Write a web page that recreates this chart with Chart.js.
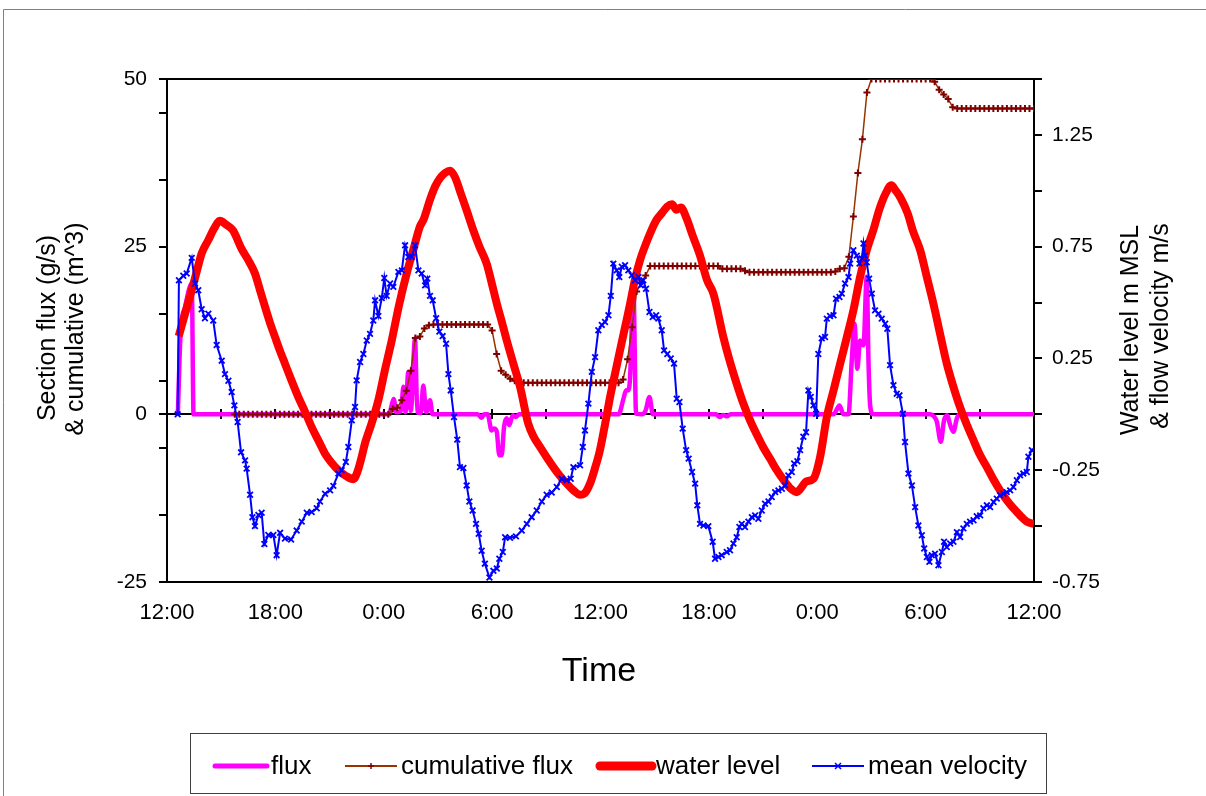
<!DOCTYPE html>
<html>
<head>
<meta charset="utf-8">
<script src="https://cdn.jsdelivr.net/npm/chart.js@4.4.1/dist/chart.umd.min.js"></script>
<style>
  html, body { margin: 0; padding: 0; background: #fff; }
</style>
</head>
<body>
<canvas id="flux_chart" width="1206" height="796"></canvas>
<script>
/*--------------------------------------------------------------------------------
----- SECTION FLUX / WATER LEVEL / VELOCITY over 48 hours (x = hours from 12:00)
--------------------------------------------------------------------------------*/

const timeLabels = ['12:00', '18:00', '0:00', '6:00', '12:00', '18:00', '0:00', '6:00', '12:00'];
const leftTicks = [-25, -15, -5, 0, 5, 15, 25, 35, 45, 50];
const rightTicks = [-0.75, -0.5, -0.25, 0, 0.25, 0.5, 0.75, 1, 1.25, 1.5];
const rightLabelled = [-0.75, -0.25, 0.25, 0.75, 1.25];

// flux (g/s), [hour, value]
const flux = [
  [0.6, 0], [0.75, 12], [1.0, 16], [1.37, 19.5], [1.47, 0],
  [12.3, 0], [12.45, 1.5], [12.55, 2.3], [12.7, 0.3], [12.95, 0.5], [13.09, 4.1], [13.2, 0.3],
  [13.36, 6.3], [13.5, 0.5], [13.73, 11.3], [13.86, 0.3], [14.05, 0.2], [14.19, 4.3], [14.35, 0.3],
  [14.56, 2.1], [14.7, 0],
  [17.2, 0], [17.42, -0.5], [17.55, 0], [17.75, 0], [17.97, -2.4], [18.1, -2.1], [18.25, -2.5],
  [18.4, -6.1], [18.53, -6.1], [18.66, -1.9], [18.8, -0.6], [18.95, -1.6], [19.14, -0.15], [19.3, -0.4], [19.5, 0],
  [25.0, 0], [25.27, 2.3], [25.42, 3.6], [25.54, 3.6], [25.64, 5.6], [25.82, 19], [25.97, 0.1],
  [26.3, 0], [26.5, 0.6], [26.71, 2.6], [26.9, 0],
  [30.4, 0], [30.6, -0.4], [30.8, -0.1], [31.0, -0.3], [31.2, 0],
  [36.9, 0], [37.23, 1.3], [37.45, 0], [37.73, 0], [37.91, 8], [38.06, 13.5], [38.22, 6.8],
  [38.37, 11], [38.56, 10.3], [38.74, 20.5], [38.84, 7.6], [38.93, 1.3], [39.1, 0],
  [42.25, 0], [42.45, -0.3], [42.62, -1.1], [42.84, -4.1], [43.02, -0.9], [43.2, -0.15],
  [43.36, -1.6], [43.54, -2.6], [43.73, -0.6], [43.9, 0], [48, 0]
];

// cumulative flux (m^3), every 15 minutes from hour 3.75
const cumStart = 3.75;
const cumStep = 0.25;
const cumulativeFlux = [
  0, 0, 0, 0, 0, 0, 0, 0, 0, 0, 0, 0, 0, 0, 0, 0, 0, 0, 0, 0, 0, 0, 0, 0, 0, 0, 0, 0, 0, 0, 0, 0, 0, 0, 0,
  0.8, 1.0, 2.1, 3.5, 6.5, 11.4, 11.6, 12.8, 13.3,
  13.4, 13.4, 13.4, 13.4, 13.4, 13.4, 13.4, 13.4, 13.4, 13.4, 13.4, 13.4, 13.4,
  12.5, 9.0, 6.5, 5.9, 5.3, 5.0, 4.8,
  4.7, 4.7, 4.7, 4.7, 4.7, 4.7, 4.7, 4.7, 4.7, 4.7, 4.7, 4.7, 4.7, 4.7, 4.7, 4.7, 4.7, 4.7, 4.7, 4.7, 4.7, 4.7,
  5.2, 8.2, 13.0, 18.3, 19.6, 20.7,
  22.1, 22.1, 22.1, 22.1, 22.1, 22.1, 22.1, 22.1, 22.1, 22.1, 22.1, 22.1, 22.1, 22.1, 22.1, 22.1,
  21.7, 21.7, 21.7, 21.7, 21.7,
  21.4,
  21.2, 21.2, 21.2, 21.2, 21.2, 21.2, 21.2, 21.2, 21.2, 21.2, 21.2, 21.2, 21.2, 21.2, 21.2, 21.2, 21.2, 21.2, 21.2,
  21.3, 21.7, 21.8, 23.5, 29.5, 36.0, 41.0, 48.0,
  50, 50, 50, 50, 50, 50, 50, 50, 50, 50, 50, 50, 50, 50,
  49.6, 48.4, 47.7, 47.0, 45.8,
  45.6, 45.6, 45.6, 45.6, 45.6, 45.6, 45.6, 45.6, 45.6, 45.6, 45.6, 45.6, 45.6, 45.6, 45.6, 45.6, 45.6, 45.6
];

// water level (m MSL), [hour, value]
const waterLevel = [
  [0.65, 0.35], [1.0, 0.45], [1.37, 0.555], [1.65, 0.64], [1.92, 0.72], [2.29, 0.78], [2.6, 0.83],
  [2.93, 0.866], [3.25, 0.85], [3.65, 0.823], [4.13, 0.74], [4.5, 0.69], [4.87, 0.63], [5.15, 0.555],
  [5.43, 0.48], [5.7, 0.41], [5.98, 0.346], [6.25, 0.285], [6.53, 0.227], [6.9, 0.15], [7.27, 0.077],
  [7.65, 0.01], [8.01, -0.057], [8.4, -0.12], [8.75, -0.176], [9.1, -0.215], [9.49, -0.25], [9.9, -0.275],
  [10.32, -0.29], [10.55, -0.255], [10.78, -0.19], [10.96, -0.13], [11.33, -0.04], [11.7, 0.063],
  [12.07, 0.2], [12.44, 0.33], [12.85, 0.49], [13.27, 0.63], [13.65, 0.74], [14.0, 0.84], [14.2, 0.87],
  [14.56, 0.96], [14.85, 1.02], [15.1, 1.055], [15.4, 1.08], [15.67, 1.09], [15.95, 1.06], [16.3, 0.98],
  [16.6, 0.91], [16.96, 0.823], [17.3, 0.75], [17.7, 0.674], [18.0, 0.58], [18.26, 0.495], [18.55, 0.41],
  [18.81, 0.33], [19.2, 0.22], [19.55, 0.122], [20.0, -0.042], [20.3, -0.1], [20.65, -0.146], [21.0, -0.19],
  [21.39, -0.236], [21.75, -0.275], [22.13, -0.31], [22.5, -0.34], [22.87, -0.36], [23.1, -0.355],
  [23.42, -0.31], [23.7, -0.24], [23.97, -0.16], [24.25, -0.045], [24.53, 0.077], [24.8, 0.18],
  [25.08, 0.286], [25.36, 0.39], [25.64, 0.495], [25.9, 0.6], [26.19, 0.69], [26.5, 0.76], [26.8, 0.82],
  [27.1, 0.87], [27.4, 0.9], [27.7, 0.93], [27.96, 0.94], [28.2, 0.915], [28.45, 0.925], [28.75, 0.88],
  [29.1, 0.8], [29.51, 0.71], [29.9, 0.6], [30.25, 0.54], [30.8, 0.346], [31.15, 0.24], [31.54, 0.137],
  [31.9, 0.05], [32.28, -0.027], [32.65, -0.09], [33.0, -0.146], [33.4, -0.2], [33.76, -0.25],
  [34.1, -0.29], [34.5, -0.33], [34.87, -0.348], [35.05, -0.335], [35.4, -0.3], [35.79, -0.288],
  [36.16, -0.19], [36.53, -0.012], [36.9, 0.107], [37.27, 0.227], [37.64, 0.346], [38.0, 0.465],
  [38.37, 0.614], [38.74, 0.734], [39.1, 0.823], [39.45, 0.92], [39.8, 0.99], [40.1, 1.025],
  [40.35, 1.0], [40.6, 0.97], [41.0, 0.9], [41.3, 0.82], [41.7, 0.734], [42.05, 0.62], [42.43, 0.495],
  [42.8, 0.36], [43.17, 0.227], [43.55, 0.12], [43.9, 0.033], [44.3, -0.05], [44.65, -0.116],
  [45.0, -0.18], [45.39, -0.236], [45.75, -0.29], [46.12, -0.34], [46.5, -0.385], [46.86, -0.42],
  [47.2, -0.45], [47.6, -0.48], [48, -0.49]
];

// mean velocity (m/s), [hour, value]
const meanVelocity = [
  [0.59, 0], [0.66, 0.60], [0.9, 0.62], [1.09, 0.63], [1.37, 0.70], [1.55, 0.585], [1.73, 0.555],
  [1.92, 0.47], [2.1, 0.43], [2.29, 0.45], [2.56, 0.42], [2.75, 0.31], [3.03, 0.24], [3.21, 0.18],
  [3.4, 0.15], [3.58, 0.10], [3.73, 0.04], [3.91, -0.034], [4.1, -0.17], [4.32, -0.206], [4.41, -0.243],
  [4.6, -0.36], [4.73, -0.46], [4.87, -0.50], [5.06, -0.45], [5.24, -0.44], [5.39, -0.58], [5.61, -0.54],
  [5.89, -0.54], [6.07, -0.63], [6.26, -0.53], [6.53, -0.556], [6.87, -0.56], [7.18, -0.52], [7.46, -0.48],
  [7.74, -0.44], [8.01, -0.437], [8.29, -0.42], [8.47, -0.39], [8.75, -0.355], [9.03, -0.34], [9.21, -0.32],
  [9.49, -0.265], [9.67, -0.25], [9.9, -0.213], [10.04, -0.146], [10.23, -0.027], [10.41, 0.033],
  [10.5, 0.152], [10.69, 0.234], [10.87, 0.27], [11.06, 0.33], [11.24, 0.36], [11.42, 0.42], [11.52, 0.51],
  [11.7, 0.44], [11.89, 0.52], [12.03, 0.61], [12.16, 0.53], [12.35, 0.585], [12.53, 0.57], [12.81, 0.637],
  [13.0, 0.644], [13.18, 0.756], [13.36, 0.704], [13.55, 0.704], [13.73, 0.756], [13.92, 0.644], [14.1, 0.63],
  [14.29, 0.577], [14.41, 0.607], [14.56, 0.53], [14.71, 0.51], [14.9, 0.43], [15.08, 0.37], [15.26, 0.35],
  [15.45, 0.316], [15.58, 0.18], [15.71, 0.107], [15.89, -0.012], [16.07, -0.113], [16.22, -0.236],
  [16.41, -0.24], [16.59, -0.318], [16.74, -0.39], [16.92, -0.43], [17.11, -0.49], [17.26, -0.534],
  [17.42, -0.61], [17.6, -0.668], [17.85, -0.73], [18.07, -0.70], [18.26, -0.69], [18.4, -0.646],
  [18.59, -0.616], [18.72, -0.55], [18.99, -0.552], [19.32, -0.546], [19.64, -0.52], [19.92, -0.49],
  [20.19, -0.46], [20.47, -0.43], [20.75, -0.39], [21.02, -0.36], [21.3, -0.35], [21.58, -0.325],
  [21.85, -0.288], [22.13, -0.295], [22.35, -0.288], [22.5, -0.236], [22.87, -0.228], [23.02, -0.146],
  [23.14, -0.072], [23.33, 0.048], [23.52, 0.19], [23.7, 0.256], [23.88, 0.376], [24.07, 0.40],
  [24.25, 0.413], [24.44, 0.443], [24.57, 0.53], [24.71, 0.674], [24.9, 0.644], [25.04, 0.614],
  [25.18, 0.66], [25.36, 0.667], [25.54, 0.644], [25.73, 0.622], [25.91, 0.60], [26.1, 0.614],
  [26.23, 0.577], [26.37, 0.60], [26.52, 0.562], [26.71, 0.458], [26.89, 0.435], [27.08, 0.443],
  [27.2, 0.428], [27.39, 0.376], [27.52, 0.286], [27.7, 0.27], [27.89, 0.25], [28.07, 0.227],
  [28.22, 0.07], [28.37, 0.055], [28.55, -0.064], [28.74, -0.16], [28.88, -0.198], [29.07, -0.258],
  [29.24, -0.31], [29.36, -0.407], [29.51, -0.49], [29.7, -0.497], [29.97, -0.50], [30.21, -0.57],
  [30.34, -0.646], [30.53, -0.638], [30.71, -0.63], [30.99, -0.616], [31.17, -0.608], [31.36, -0.578],
  [31.54, -0.55], [31.69, -0.504], [31.82, -0.49], [32.0, -0.504], [32.19, -0.48], [32.38, -0.46],
  [32.56, -0.452], [32.74, -0.467], [32.93, -0.43], [33.11, -0.40], [33.3, -0.39], [33.48, -0.37],
  [33.67, -0.348], [33.85, -0.34], [34.04, -0.333], [34.22, -0.318], [34.4, -0.273], [34.59, -0.258],
  [34.72, -0.22], [34.9, -0.21], [35.05, -0.16], [35.23, -0.10], [35.38, -0.08], [35.51, 0.107],
  [35.64, 0.078], [35.79, 0.04], [35.94, 0.003], [36.06, 0.27], [36.25, 0.34], [36.43, 0.346],
  [36.53, 0.428], [36.71, 0.44], [36.9, 0.443], [37.04, 0.517], [37.23, 0.525], [37.36, 0.54],
  [37.54, 0.585], [37.73, 0.614], [37.82, 0.674], [38.0, 0.734], [38.19, 0.71], [38.34, 0.674],
  [38.47, 0.697], [38.56, 0.764], [38.65, 0.71], [38.74, 0.68], [38.87, 0.607], [39.02, 0.54],
  [39.2, 0.465], [39.39, 0.45], [39.57, 0.428], [39.76, 0.405], [39.88, 0.383], [40.03, 0.22],
  [40.22, 0.13], [40.4, 0.092], [40.55, 0.085], [40.74, 0.003], [40.86, -0.124], [41.05, -0.265],
  [41.24, -0.318], [41.42, -0.415], [41.6, -0.497], [41.79, -0.541], [41.92, -0.60], [42.07, -0.638],
  [42.21, -0.66], [42.34, -0.63], [42.52, -0.623], [42.71, -0.675], [42.9, -0.616], [43.02, -0.57],
  [43.17, -0.594], [43.36, -0.578], [43.54, -0.57], [43.73, -0.527], [43.91, -0.549], [44.09, -0.51],
  [44.28, -0.49], [44.46, -0.48], [44.65, -0.474], [44.83, -0.456], [45.02, -0.452], [45.2, -0.42],
  [45.39, -0.407], [45.57, -0.415], [45.76, -0.392], [45.94, -0.377], [46.12, -0.362], [46.31, -0.355],
  [46.49, -0.348], [46.68, -0.34], [46.86, -0.325], [47.05, -0.295], [47.23, -0.273], [47.41, -0.265],
  [47.6, -0.258], [47.69, -0.19], [47.88, -0.16]
];

const FONT = "'Liberation Sans', Arial, sans-serif";

function toPoints(pairs) {
    return pairs.map(p => ({ x: p[0], y: p[1] }));
}

// Plot frame, the zero axis with its 3-hourly ticks, titles, outer border and legend
const decorations = {
    id: 'decorations',
    beforeDatasetsDraw(chart) {
        const ctx = chart.ctx;
        const area = chart.chartArea;
        const x = chart.scales.x;
        const y0 = Math.round(chart.scales.y.getPixelForValue(0));
        ctx.save();
        ctx.strokeStyle = '#000';
        ctx.lineWidth = 2;
        ctx.strokeRect(area.left, area.top, area.right - area.left, area.bottom - area.top);
        ctx.beginPath();
        ctx.moveTo(area.left, y0);
        ctx.lineTo(area.right, y0);
        for (let h = 3; h < 48; h += 3) {
            const px = Math.round(x.getPixelForValue(h));
            ctx.moveTo(px, y0 - 5);
            ctx.lineTo(px, y0 + 5);
        }
        ctx.stroke();
        ctx.restore();
    },
    afterDraw(chart) {
        const ctx = chart.ctx;
        ctx.save();
        // outer chart border (cut by the picture edge)
        ctx.strokeStyle = '#808080';
        ctx.lineWidth = 1;
        ctx.beginPath();
        ctx.moveTo(3.5, 796);
        ctx.lineTo(3.5, 9.5);
        ctx.lineTo(1206, 9.5);
        ctx.stroke();

        // axis titles
        ctx.fillStyle = '#000';
        ctx.textAlign = 'center';
        ctx.textBaseline = 'middle';
        ctx.font = '25px ' + FONT;
        const vtext = (text, px, py) => {
            ctx.save();
            ctx.translate(px, py);
            ctx.rotate(-Math.PI / 2);
            ctx.fillText(text, 0, 0);
            ctx.restore();
        };
        vtext('Section flux (g/s)', 48, 328);
        vtext('& cumulative (m^3)', 76, 329);
        vtext('Water level m MSL', 1131, 330);
        vtext('& flow velocity m/s', 1161, 326);
        ctx.font = '34px ' + FONT;
        ctx.fillText('Time', 599, 672);

        // legend
        ctx.strokeStyle = '#404040';
        ctx.lineWidth = 1;
        ctx.strokeRect(190.5, 733.5, 856, 60);
        const ly = 766;
        const items = [
            { text: 'flux', start: 215, color: '#FF00FF', width: 5 },
            { text: 'cumulative flux', start: 345, color: '#993300', width: 2, marker: 'plus' },
            { text: 'water level', start: 600, color: '#FF0000', width: 9 },
            { text: 'mean velocity', start: 812, color: '#0000FF', width: 2, marker: 'x' }
        ];
        ctx.font = '26px ' + FONT;
        ctx.textAlign = 'left';
        items.forEach(it => {
            ctx.strokeStyle = it.color;
            ctx.lineWidth = it.width;
            ctx.lineCap = it.width > 4 ? 'round' : 'butt';
            ctx.beginPath();
            ctx.moveTo(it.start, ly);
            ctx.lineTo(it.start + 52, ly);
            ctx.stroke();
            const mx = it.start + 26;
            if (it.marker === 'plus') {
                ctx.strokeStyle = '#800000';
                ctx.lineWidth = 1.5;
                ctx.beginPath();
                ctx.moveTo(mx - 3, ly); ctx.lineTo(mx + 3, ly);
                ctx.moveTo(mx, ly - 3); ctx.lineTo(mx, ly + 3);
                ctx.stroke();
            } else if (it.marker === 'x') {
                ctx.lineWidth = 1.5;
                ctx.beginPath();
                ctx.moveTo(mx - 3, ly - 3); ctx.lineTo(mx + 3, ly + 3);
                ctx.moveTo(mx + 3, ly - 3); ctx.lineTo(mx - 3, ly + 3);
                ctx.stroke();
            }
            ctx.fillStyle = '#000';
            ctx.fillText(it.text, it.start + 56, ly + 1);
        });
        ctx.restore();
    }
};

let context = document.getElementById('flux_chart').getContext('2d');

let flux_chart = new Chart(context, {
    type: 'line',
    data: {
        datasets: [{
            label: 'flux',
            data: toPoints(flux),
            yAxisID: 'y',
            borderColor: '#FF00FF',
            borderWidth: 4.5,
            pointRadius: 0,
            cubicInterpolationMode: 'monotone',
            order: 4
        }, {
            label: 'cumulative flux',
            data: cumulativeFlux.map((v, i) => ({ x: cumStart + i * cumStep, y: v })),
            yAxisID: 'y',
            borderColor: '#993300',
            borderWidth: 1.5,
            pointStyle: 'cross',
            pointRadius: 3.5,
            pointBorderWidth: 2,
            pointBorderColor: '#800000',
            order: 3
        }, {
            label: 'water level',
            data: toPoints(waterLevel),
            yAxisID: 'y1',
            borderColor: '#FF0000',
            borderWidth: 8,
            pointRadius: 0,
            cubicInterpolationMode: 'monotone',
            order: 2
        }, {
            label: 'mean velocity',
            data: toPoints(meanVelocity),
            yAxisID: 'y1',
            borderColor: '#0000FF',
            borderWidth: 2,
            pointStyle: 'crossRot',
            pointRadius: 4,
            pointBorderWidth: 1.8,
            pointBorderColor: '#0000FF',
            order: 1
        }]
    },
    options: {
        responsive: false,
        animation: false,
        layout: { padding: { top: 79, left: 0, right: 0, bottom: 0 } },
        plugins: {
            legend: { display: false },
            tooltip: { enabled: false }
        },
        scales: {
            x: {
                type: 'linear',
                position: 'bottom',
                min: 0,
                max: 48,
                afterBuildTicks: s => { s.ticks = timeLabels.map((t, i) => ({ value: i * 6 })); },
                afterFit: s => { s.height = 214; },
                grid: { display: false, drawTicks: false },
                border: { display: false },
                ticks: {
                    padding: 18,
                    maxRotation: 0,
                    autoSkip: false,
                    color: '#000',
                    font: { family: FONT, size: 22 },
                    callback: v => timeLabels[Math.round(v / 6)]
                }
            },
            y: {
                position: 'left',
                min: -25,
                max: 50,
                afterBuildTicks: s => { s.ticks = leftTicks.map(v => ({ value: v })); },
                afterFit: s => { s.width = 167; },
                grid: { drawOnChartArea: false, color: '#000', lineWidth: 2, tickLength: 8 },
                border: { display: true, color: '#000', width: 2 },
                ticks: {
                    padding: 12,
                    color: '#000',
                    font: { family: FONT, size: 21 },
                    callback: v => (v % 25 === 0 ? String(v) : '')
                }
            },
            y1: {
                position: 'right',
                min: -0.75,
                max: 1.5,
                afterBuildTicks: s => { s.ticks = rightTicks.map(v => ({ value: v })); },
                afterFit: s => { s.width = 172; },
                grid: { drawOnChartArea: false, color: '#000', lineWidth: 2, tickLength: 8 },
                border: { display: true, color: '#000', width: 2 },
                ticks: {
                    padding: 10,
                    color: '#000',
                    font: { family: FONT, size: 21 },
                    callback: v => (rightLabelled.includes(v) ? v.toFixed(2) : '')
                }
            }
        }
    },
    plugins: [decorations]
});
</script>
</body>
</html>
